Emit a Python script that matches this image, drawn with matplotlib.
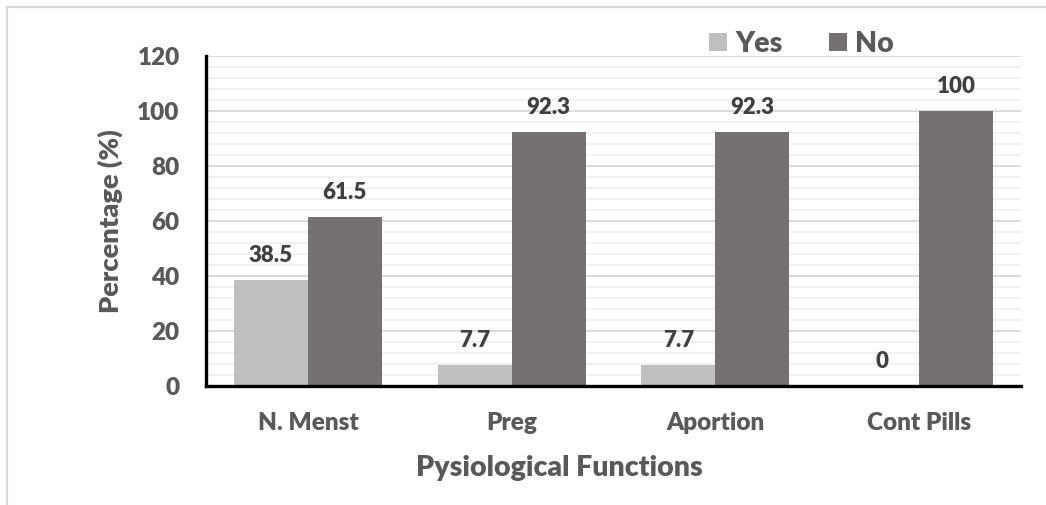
import matplotlib
matplotlib.use("Agg")
import matplotlib.pyplot as plt
from matplotlib.patches import Rectangle
import numpy as np

categories = ["N. Menst", "Preg", "Aportion", "Cont Pills"]
yes_values = [38.5, 7.7, 7.7, 0]
no_values = [61.5, 92.3, 92.3, 100]
series_names = ["Yes", "No"]

WEIGHT = 800
plt.rcParams["font.family"] = ["Lato", "DejaVu Sans"]
plt.rcParams["font.weight"] = WEIGHT

TEXT = "#595959"
LABEL = "#404040"
YES_C = "#BFBFBF"
NO_C = "#767171"

fig = plt.figure(figsize=(10.46, 5.05), dpi=100)
ax = fig.add_axes([206 / 1046, 1 - 386 / 505, (1021 - 206) / 1046, (386 - 56) / 505])

x = np.arange(len(categories))
w = 0.363
b1 = ax.bar(x - w / 2, yes_values, w, color=YES_C, label=series_names[0], zorder=3)
b2 = ax.bar(x + w / 2, no_values, w, color=NO_C, label=series_names[1], zorder=3)

# value labels above each bar
for bars, vals in ((b1, yes_values), (b2, no_values)):
    for rect, v in zip(bars, vals):
        ax.annotate(f"{v:g}", (rect.get_x() + rect.get_width() / 2, v),
                    xytext=(0, 13), textcoords="offset points",
                    ha="center", va="baseline", fontsize=16,
                    fontweight=WEIGHT, color=LABEL)

ax.set_xlim(-0.5, len(categories) - 0.5)
ax.set_ylim(0, 120)
ax.set_yticks(np.arange(0, 121, 20))
ax.set_yticks(np.arange(0, 121, 4), minor=True)
ax.grid(axis="y", which="major", color="#D9D9D9", lw=1.3, zorder=0)
ax.grid(axis="y", which="minor", color="#F0F0F0", lw=1.3, zorder=0)
ax.set_xticks(x)
ax.set_xticklabels(categories)
ax.tick_params(axis="both", which="both", length=0, labelsize=17.5, labelcolor=TEXT)
ax.tick_params(axis="x", pad=19)
ax.tick_params(axis="y", pad=19)
for lab in ax.get_xticklabels() + ax.get_yticklabels():
    lab.set_fontweight(WEIGHT)

for s in ("top", "right"):
    ax.spines[s].set_visible(False)
for s in ("left", "bottom"):
    ax.spines[s].set_color("black")
    ax.spines[s].set_linewidth(2.4)
    ax.spines[s].set_zorder(4)

ax.set_xlabel("Pysiological Functions", fontsize=20.5, fontweight=WEIGHT,
              color=TEXT, labelpad=15)
ax.xaxis.label.set_x(0.433)
ax.set_ylabel("Percentage (%)", fontsize=19.6, fontweight=WEIGHT,
              color=TEXT, labelpad=10)

leg = fig.legend(handles=[b1, b2], labels=series_names, loc="center left",
                 bbox_to_anchor=(709 / 1046, 1 - 44 / 505), ncol=2, frameon=False,
                 prop={"weight": WEIGHT, "size": 20.5},
                 handlelength=0.63, handleheight=0.63, handletextpad=0.28,
                 columnspacing=1.65, borderpad=0, borderaxespad=0)
for t in leg.get_texts():
    t.set_color(TEXT)

# light chart-area border
fig.patches.append(Rectangle((7 / 1046, -0.1), 1.2, 1 - 7 / 505 + 0.1,
                             transform=fig.transFigure, fill=False,
                             edgecolor="#D9D9D9", lw=1.6, zorder=0))

fig.savefig("out.png", dpi=100)
